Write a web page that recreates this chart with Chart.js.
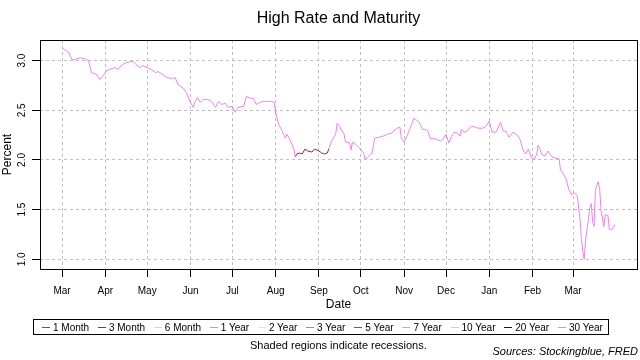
<!DOCTYPE html>
<html>
<head>
<meta charset="utf-8">
<script src="https://cdn.jsdelivr.net/npm/chart.js@4.4.0/dist/chart.umd.min.js"></script>
<style>
  body { margin: 0; background: #fff; font-family: "Liberation Sans", Arial, sans-serif; }
  #wrap { position: relative; width: 640px; height: 360px; }
  #legend {
    position: absolute; left: 33px; top: 319px; width: 576px; height: 16px;
    border: 1px solid #000; box-sizing: border-box;
    display: flex; justify-content: space-between; align-items: center;
    padding: 0 5px 0 8px; font-size: 10px; color: #000;
  }
  #legend span { white-space: nowrap; display: flex; align-items: center; }
  #legend i { display: inline-block; width: 8px; height: 0; border-top: 1px solid; margin-right: 3px; }
  #note { position: absolute; left: 250px; top: 339px; font-size: 11px; line-height: 13px; }
  #src { position: absolute; right: 2px; top: 345px; font-size: 11px; line-height: 13px; font-style: italic; }
</style>
</head>
<body>
<div id="wrap">
  <canvas id="myChart" width="640" height="360"></canvas>
  <div id="legend"></div>
  <div id="note">Shaded regions indicate recessions.</div>
  <div id="src">Sources: Stockingblue, FRED</div>
</div>
<script>
// days since 2019-03-01
const dayNum = [0, 5, 7, 9, 13, 16, 19, 21, 25, 27, 30, 32, 36, 38, 40, 43, 46, 49, 51, 53, 56, 58,
  61, 64, 67, 69, 73, 75, 79, 81, 83, 87, 89, 92, 94, 95, 97, 99, 101, 104, 107, 110, 112, 114, 117, 119,
  122, 124, 126, 130, 132, 135, 137, 139, 142, 144, 147, 150, 152, 153, 155, 157, 160, 161, 163, 166, 167,
  168, 170, 172, 174, 176, 179, 181, 184, 186, 188, 190, 191, 193, 196, 197, 199, 202, 203, 206, 207, 208,
  211, 213, 216, 217, 219, 222, 224, 227, 230, 233, 236, 240, 242, 243, 245, 247, 249, 252, 254, 256, 258,
  261, 262, 264, 266, 268, 271, 273, 275, 277, 279, 281, 283, 285, 286, 288, 290, 293, 296, 298, 301, 303,
  306, 308, 311, 314, 316, 318, 320, 323, 326, 328, 330, 332, 334, 336, 338, 340, 341, 344, 346, 348, 351,
  353, 356, 357, 359, 361, 363, 365, 367, 369, 371, 372, 373, 374, 375, 377, 378, 379, 380, 381, 382, 384,
  385, 386, 388, 389, 391, 392, 394, 396];

const highRate = [3.13, 3.08, 3.01, 3.01, 3.03, 3.02, 3.00, 2.88, 2.86, 2.81, 2.86, 2.90, 2.92, 2.93, 2.91, 2.96, 2.98, 2.99, 2.99, 2.96, 2.93, 2.95,
  2.93, 2.91, 2.88, 2.89, 2.85, 2.83, 2.82, 2.83, 2.76, 2.72, 2.68, 2.58, 2.53, 2.58, 2.63, 2.58, 2.61, 2.61, 2.59, 2.53, 2.59, 2.56, 2.57, 2.53,
  2.54, 2.48, 2.53, 2.54, 2.64, 2.62, 2.62, 2.56, 2.58, 2.59, 2.59, 2.59, 2.58, 2.48, 2.36, 2.31, 2.22, 2.26, 2.21, 2.11, 2.03,
  2.06, 2.07, 2.06, 2.11, 2.09, 2.08, 2.11, 2.09, 2.07, 2.06, 2.07, 2.11, 2.19, 2.26, 2.37, 2.33, 2.26, 2.18, 2.17, 2.10, 2.18,
  2.15, 2.12, 2.07, 2.01, 2.03, 2.07, 2.22, 2.23, 2.24, 2.26, 2.27, 2.32, 2.33, 2.22, 2.18, 2.24, 2.31, 2.42, 2.40, 2.38, 2.31,
  2.30, 2.29, 2.21, 2.22, 2.21, 2.19, 2.21, 2.26, 2.17, 2.24, 2.28, 2.27, 2.24, 2.31, 2.28, 2.29, 2.34, 2.33, 2.32, 2.32, 2.33,
  2.39, 2.28, 2.28, 2.38, 2.29, 2.29, 2.23, 2.28, 2.25, 2.21, 2.11, 2.06, 2.11, 2.03, 2.00, 2.06, 2.15, 2.05, 2.04, 2.09, 2.03,
  2.02, 2.01, 1.90, 1.86, 1.81, 1.70, 1.65, 1.67, 1.64, 1.40, 1.20, 1.08, 1.00, 1.20, 1.40, 1.52, 1.56, 1.38, 1.33, 1.70, 1.78,
  1.72, 1.50, 1.33, 1.45, 1.44, 1.30, 1.30, 1.35];

// which maturity holds the high rate (20 Year in late Aug / early Sep)
const highFrom = 168, highTo = 190;

const tickDays = [0, 31, 61, 92, 122, 153, 184, 214, 245, 275, 306, 337, 366];
const tickLabels = ['Mar', 'Apr', 'May', 'Jun', 'Jul', 'Aug', 'Sep', 'Oct', 'Nov', 'Dec', 'Jan', 'Feb', 'Mar'];

const seriesNames = ['1 Month', '3 Month', '6 Month', '1 Year', '2 Year', '3 Year', '5 Year', '7 Year', '10 Year', '20 Year', '30 Year'];
const seriesColors = ['#8a2be2', '#ff0000', '#ffc0cb', '#ffa500', '#ffff00', '#00ff00', '#228b22', '#00ffff', '#add8e6', '#0000cd', '#ee82ee'];

let pts30 = [], pts20 = [];
for (let i = 0; i < dayNum.length; i++) {
    let d = dayNum[i];
    let in20 = d >= highFrom && d <= highTo;
    let near20 = in20 || (dayNum[i + 1] >= highFrom && dayNum[i + 1] <= highTo) || (dayNum[i - 1] >= highFrom && dayNum[i - 1] <= highTo);
    pts30.push({ x: d, y: in20 ? null : highRate[i] });
    pts20.push({ x: d, y: near20 ? highRate[i] : null });
}

let lg = document.getElementById('legend');
seriesNames.forEach((n, i) => {
    lg.innerHTML += '<span><i style="border-color:' + seriesColors[i] + '"></i>' + n + '</span>';
});

const boxPlugin = {
    id: 'box',
    afterDraw(chart) {
        let a = chart.chartArea, c = chart.ctx;
        c.save();
        c.strokeStyle = '#000';
        c.lineWidth = 1;
        c.strokeRect(Math.round(a.left) + 0.5, Math.round(a.top) + 0.5, Math.round(a.right - a.left), Math.round(a.bottom - a.top));
        c.restore();
    }
};

const font = "'Liberation Sans', Arial, sans-serif";

let ctx = document.getElementById('myChart').getContext('2d');
let myChart = new Chart(ctx, {
    type: 'line',
    data: {
        datasets: [{
            label: '30 Year',
            data: pts30,
            borderColor: '#ee82ee',
            borderWidth: 1,
            pointRadius: 0,
            spanGaps: false
        }, {
            label: '20 Year',
            data: pts20,
            borderColor: '#a52030',
            borderWidth: 1,
            pointRadius: 0,
            spanGaps: false
        }]
    },
    options: {
        responsive: false,
        animation: false,
        devicePixelRatio: 1,
        layout: { padding: { left: 0, right: 3, top: 0, bottom: 48 } },
        plugins: {
            legend: { display: false },
            tooltip: { enabled: false },
            title: {
                display: true,
                text: 'High Rate and Maturity',
                fullSize: false,
                color: '#000',
                font: { family: font, size: 16, weight: 'normal' },
                padding: { top: 9, bottom: 11.8 }
            }
        },
        scales: {
            x: {
                type: 'linear',
                min: -15.8,
                max: 411.8,
                afterBuildTicks: (s) => { s.ticks = tickDays.map(v => ({ value: v })); },
                afterFit: (s) => { s.height = 43; },
                ticks: {
                    autoSkip: false,
                    maxRotation: 0,
                    padding: 8,
                    color: '#000',
                    font: { family: font, size: 10 },
                    callback: (v) => tickLabels[tickDays.indexOf(v)]
                },
                grid: { color: '#c0c0c0', tickColor: '#000', tickLength: 8, tickBorderDash: [1, 0] },
                border: { display: false, dash: [3, 3] },
                title: { display: true, text: 'Date', color: '#000', font: { family: font, size: 12 }, padding: 0 }
            },
            y: {
                min: 0.902,
                max: 3.208,
                afterBuildTicks: (s) => { s.ticks = [1, 1.5, 2, 2.5, 3].map(v => ({ value: v })); },
                afterFit: (s) => { s.width = 40; },
                ticks: {
                    minRotation: 90,
                    maxRotation: 90,
                    crossAlign: 'center',
                    padding: 3,
                    color: '#000',
                    font: { family: font, size: 10 },
                    callback: (v) => v.toFixed(1)
                },
                grid: { color: '#c0c0c0', tickColor: '#000', tickLength: 8, tickBorderDash: [1, 0] },
                border: { display: false, dash: [3, 3] },
                title: { display: true, text: 'Percent', color: '#000', font: { family: font, size: 12 }, padding: 0 }
            }
        }
    },
    plugins: [boxPlugin]
});
</script>
</body>
</html>
